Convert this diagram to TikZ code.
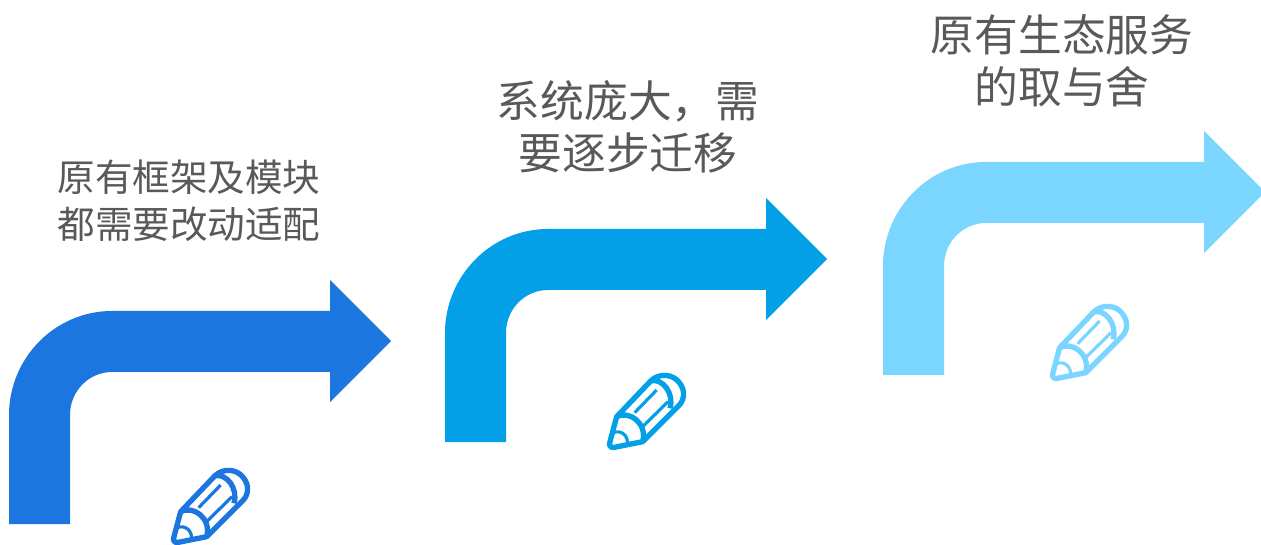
\documentclass[tikz,border=0pt]{standalone}
\usepackage{fontspec}
\setmainfont{Noto Sans CJK SC}
\definecolor{stepone}{HTML}{1C76E0}
\definecolor{steptwo}{HTML}{03A0E8}
\definecolor{stepthree}{HTML}{7AD5FF}
\definecolor{labelgray}{HTML}{595959}
\tikzset{
  bendarrow/.pic={
    \fill[pic actions] (9,524) -- (9,415) .. controls (9,358) and (55,311) .. (112,311)
      -- (330,311) -- (330,280) -- (391,341) -- (330,402) -- (330,372) -- (112,372)
      .. controls (89,372) and (70,391) .. (70,415) -- (70,524) -- cycle;
  },
  penthick/.style={pic actions, scale=1/3, line width=4pt, line join=round},
  penthin/.style={pic actions, scale=1/3, line width=2.4pt},
  pencil/.pic={
    % outline of the body and the tip
    \draw[penthick] (195,62) .. controls (220,38) and (262,42) .. (280,68)
      .. controls (298,90) and (296,118) .. (280,135) -- (170,245) -- (85,262)
      .. controls (72,265) and (68,255) .. (72,245) -- (92,170) -- cycle;
    \draw[penthick] (92,170) .. controls (130,150) and (185,190) .. (170,245);
    \draw[penthick] (195,62) .. controls (230,55) and (265,100) .. (252,145);
    \draw[penthin] (146,158) -- (212,90);
    \draw[penthin] (172,198) -- (246,125);
    \draw[penthin] (82,218) .. controls (105,208) and (128,228) .. (124,252);
  },
  steplabel/.style={
    text=labelgray,
    align=center,
    font=\fontsize{28.2pt}{35.3pt}\selectfont
  },
  biglabel/.style={
    steplabel,
    font=\fontsize{32.8pt}{38.6pt}\selectfont
  }
}

\begin{document}
\begin{tikzpicture}[x=0.75pt,y=-0.75pt]
  \useasboundingbox (0,0) rectangle (1261,545);
  \clip (0,0) rectangle (1261,545);

  \foreach \i/\ArrowX/\ArrowY/\PenX/\PenY/\Col in {
    1/0/0/150/455/stepone,
    2/436/-82/586/360/steptwo,
    3/874/-149/1029/291/stepthree}{
    \pic[fill=\Col] at (\ArrowX,\ArrowY) {bendarrow};
    \pic[draw=\Col] at (\PenX,\PenY) {pencil};
  }

  \node[steplabel] (label1) at (189,201) {原有框架及模块\\都需要改动适配};
  \node[biglabel] (label2) at (628,127) {系统庞大，需\\要逐步迁移};
  \node[biglabel] (label3) at (1062,61) {原有生态服务\\的取与舍};
\end{tikzpicture}
\end{document}
